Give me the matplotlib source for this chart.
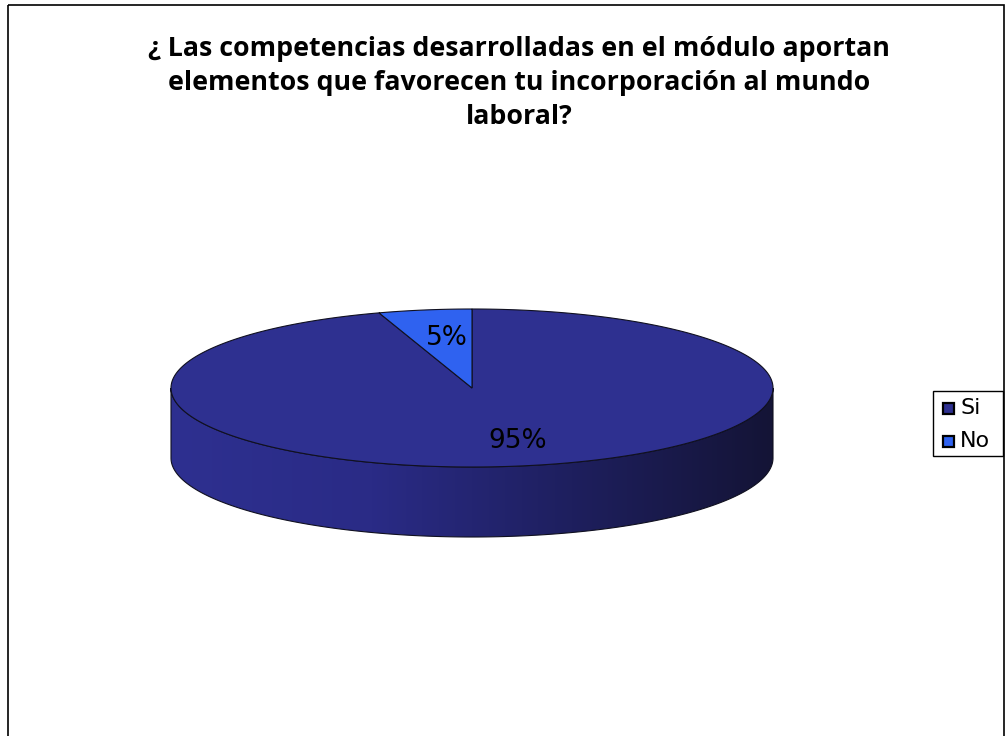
import numpy as np
import matplotlib.pyplot as plt
from matplotlib.patches import Polygon, Rectangle
from matplotlib.colors import LinearSegmentedColormap

title = "¿ Las competencias desarrolladas en el módulo aportan\nelementos que favorecen tu incorporación al mundo\nlaboral?"
labels = ["Si", "No"]
values = [95, 5]
top_colors = ["#2e3090", "#2f62f0"]

# pie layout in pixel units
cx, cy = 472, 388
rx, ry = 301, 79
depth = 70


def pt(theta, dy=0):
    return cx + rx * np.cos(theta), cy - ry * np.sin(theta) + dy


fig = plt.figure(figsize=(10.07, 7.36), dpi=100)
ax = fig.add_axes([0, 0, 1, 1])
ax.set_xlim(0, 1007)
ax.set_ylim(736, 0)
ax.axis("off")

# chart frame
ax.add_patch(Rectangle((8, 5), 996, 740, fill=False, edgecolor="black", lw=1.2))

total = sum(values)
fracs = [v / total for v in values]

# slices go clockwise from 12 o'clock
angles = []
start = np.pi / 2
for f in fracs:
    end = start - 2 * np.pi * f
    angles.append((start, end))
    start = end

side_cmap = LinearSegmentedColormap.from_list("side", ["#2e3090", "#2a2b86", "#1e1f5e", "#141436"])

# side walls (only the front half is visible)
for (a0, a1), col in zip(angles, top_colors):
    lo, hi = min(a0, a1), max(a0, a1)
    segs = []
    for k in range(-2, 2):
        s = max(lo, np.pi + 2 * np.pi * k)
        e = min(hi, 2 * np.pi + 2 * np.pi * k)
        if e > s:
            segs.append((s, e))
    for s, e in segs:
        th = np.linspace(s, e, 200)
        top = [pt(t) for t in th]
        bot = [pt(t, depth) for t in th[::-1]]
        poly = Polygon(top + bot, closed=True, facecolor="none", edgecolor="#101020", lw=0.8, zorder=2)
        ax.add_patch(poly)
        grad = np.linspace(0, 1, 256).reshape(1, -1)
        im = ax.imshow(grad, cmap=side_cmap, aspect="auto",
                       extent=(cx - rx, cx + rx, cy + ry + depth, cy - ry), zorder=1)
        im.set_clip_path(poly)

# top faces
for (a0, a1), col in zip(angles, top_colors):
    th = np.linspace(a0, a1, 300)
    verts = [(cx, cy)] + [pt(t) for t in th]
    ax.add_patch(Polygon(verts, closed=True, facecolor=col, edgecolor="#101020", lw=0.8, zorder=3))

# percentage labels
ax.text(518, 441, f"{values[0]}%", ha="center", va="center", fontsize=19,
        family="DejaVu Sans", zorder=4)
ax.text(447, 338, f"{values[1]}%", ha="center", va="center", fontsize=19,
        family="DejaVu Sans", zorder=4)

ax.text(519, 83, title, ha="center", va="center", fontsize=19.3, fontweight="bold",
        family="Open Sans", linespacing=1.4)

# legend
ax.add_patch(Rectangle((933, 391), 70, 65, fill=False, edgecolor="black", lw=1))
for i, (lab, col) in enumerate(zip(labels, top_colors)):
    y = 408 + i * 33
    ax.add_patch(Rectangle((943, y - 5.5), 11, 11, facecolor=col, edgecolor="black", lw=1.6))
    ax.text(960, y, lab, ha="left", va="center", fontsize=16, family="DejaVu Sans")

fig.savefig("out.png", dpi=100)
